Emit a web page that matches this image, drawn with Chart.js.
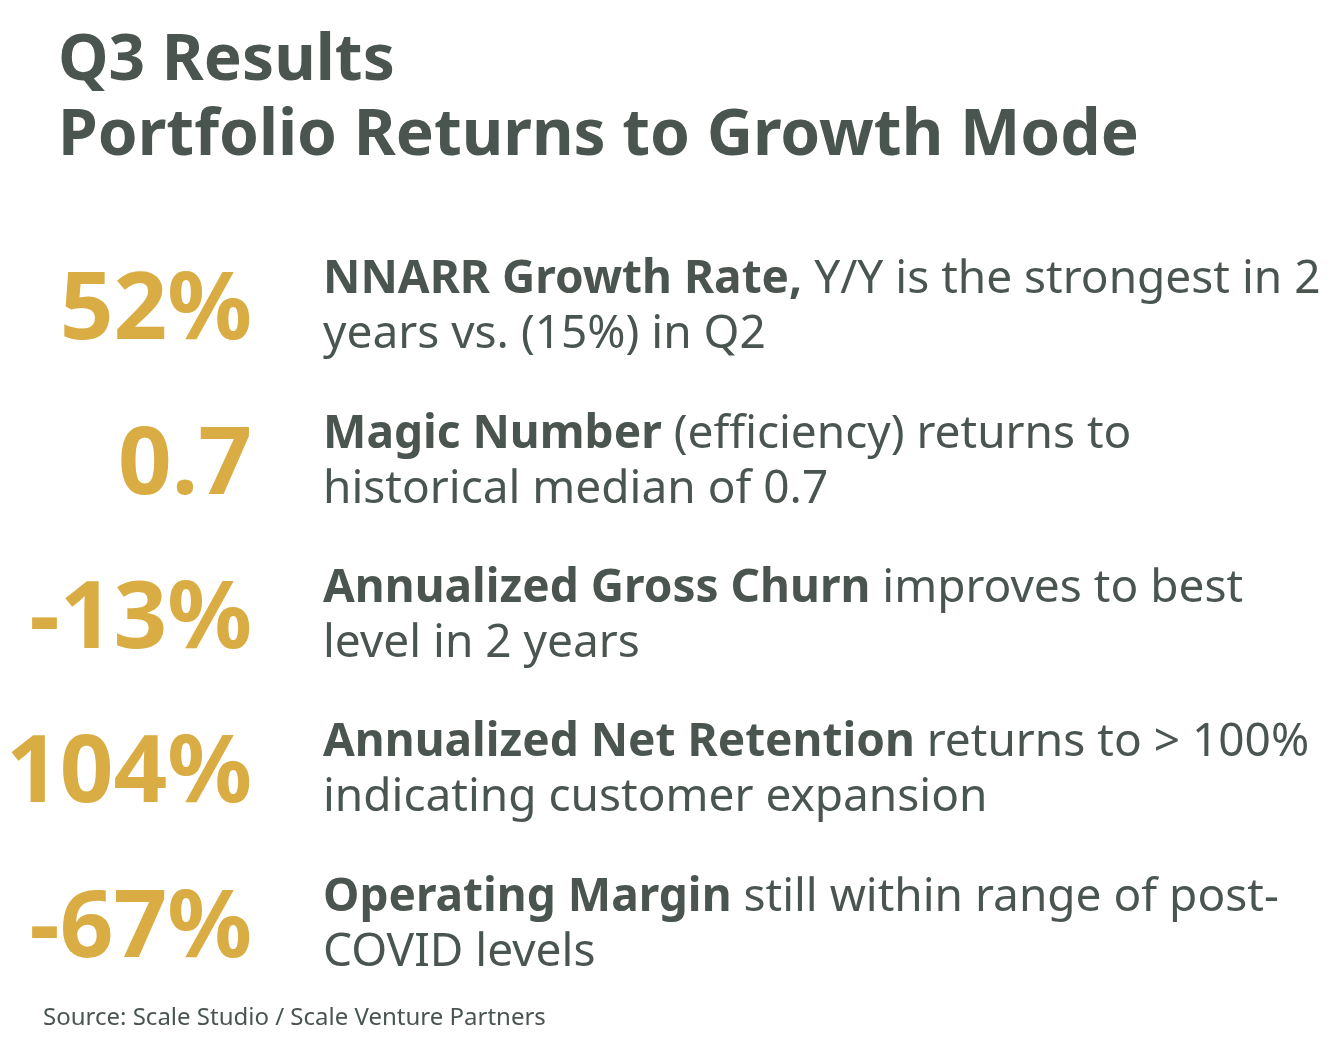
<!DOCTYPE html>
<html>
<head>
<meta charset="utf-8">
<title>Q3 Results</title>
<script src="https://cdn.jsdelivr.net/npm/chart.js@4.4.1/dist/chart.umd.min.js"></script>
<style>
  html, body { margin: 0; padding: 0; background: #ffffff; }
  #wrap { width: 1344px; height: 1042px; position: relative; }
</style>
</head>
<body>
<div id="wrap"><canvas id="chart" width="1344" height="1042"></canvas></div>
<script>
// headline data
const metrics = ['NNARR Growth Rate', 'Magic Number', 'Annualized Gross Churn', 'Annualized Net Retention', 'Operating Margin'];
const values = [52, 0.7, -13, 104, -67];
const units = ['%', '', '%', '%', '%'];
const boldText = ['NNARR Growth Rate,', 'Magic Number', 'Annualized Gross Churn', 'Annualized Net Retention', 'Operating Margin'];
const restText = [' Y/Y is the strongest in 2', ' (efficiency) returns to', ' improves to best', ' returns to > 100%', ' still within range of post-'];
const secondLine = ['years vs. (15%) in Q2', 'historical median of 0.7', 'level in 2 years', 'indicating customer expansion', 'COVID levels'];
const titleLines = ['Q3 Results', 'Portfolio Returns to Growth Mode'];
const sourceText = 'Source: Scale Studio / Scale Venture Partners';

const FONT = "'Noto Sans', 'DejaVu Sans', sans-serif";
const DARK = '#4a5550';
const GOLD = '#d9ad43';

const textPlugin = {
  id: 'infographText',
  afterDraw(chart) {
    const ctx = chart.ctx;
    const y = chart.scales.y;
    ctx.save();
    ctx.textBaseline = 'alphabetic';

    // title
    ctx.fillStyle = DARK;
    ctx.textAlign = 'left';
    ctx.font = 'bold 64px ' + FONT;
    ctx.fillText(titleLines[0], 58, 80);
    ctx.fillText(titleLines[1], 58, 155);

    metrics.forEach((m, i) => {
      const cy = y.getPixelForValue(i);
      // big number
      ctx.fillStyle = GOLD;
      ctx.textAlign = 'right';
      ctx.font = 'bold 94px ' + FONT;
      ctx.fillText(values[i] + units[i], 252, cy + 35);

      // description
      ctx.fillStyle = DARK;
      ctx.textAlign = 'left';
      ctx.font = 'bold 46px ' + FONT;
      ctx.fillText(boldText[i], 323, cy - 11);
      const w = ctx.measureText(boldText[i]).width;
      ctx.font = '46px ' + FONT;
      ctx.fillText(restText[i], 323 + w, cy - 11);
      ctx.fillText(secondLine[i], 323, cy + 44);
    });

    // source
    ctx.font = '24px ' + FONT;
    ctx.fillText(sourceText, 43, 1025);
    ctx.restore();
  }
};

new Chart(document.getElementById('chart'), {
  type: 'bar',
  data: {
    labels: metrics,
    datasets: [{
      data: values,
      backgroundColor: 'rgba(0,0,0,0)',
      borderWidth: 0
    }]
  },
  options: {
    indexAxis: 'y',
    responsive: false,
    animation: false,
    events: [],
    layout: { padding: { top: 227, bottom: 43, left: 0, right: 0 } },
    plugins: {
      legend: { display: false },
      tooltip: { enabled: false },
      title: { display: false }
    },
    scales: {
      y: { display: false, offset: true, grid: { display: false } },
      x: { display: false, min: -100, max: 120, grid: { display: false } }
    }
  },
  plugins: [textPlugin]
});
</script>
</body>
</html>
